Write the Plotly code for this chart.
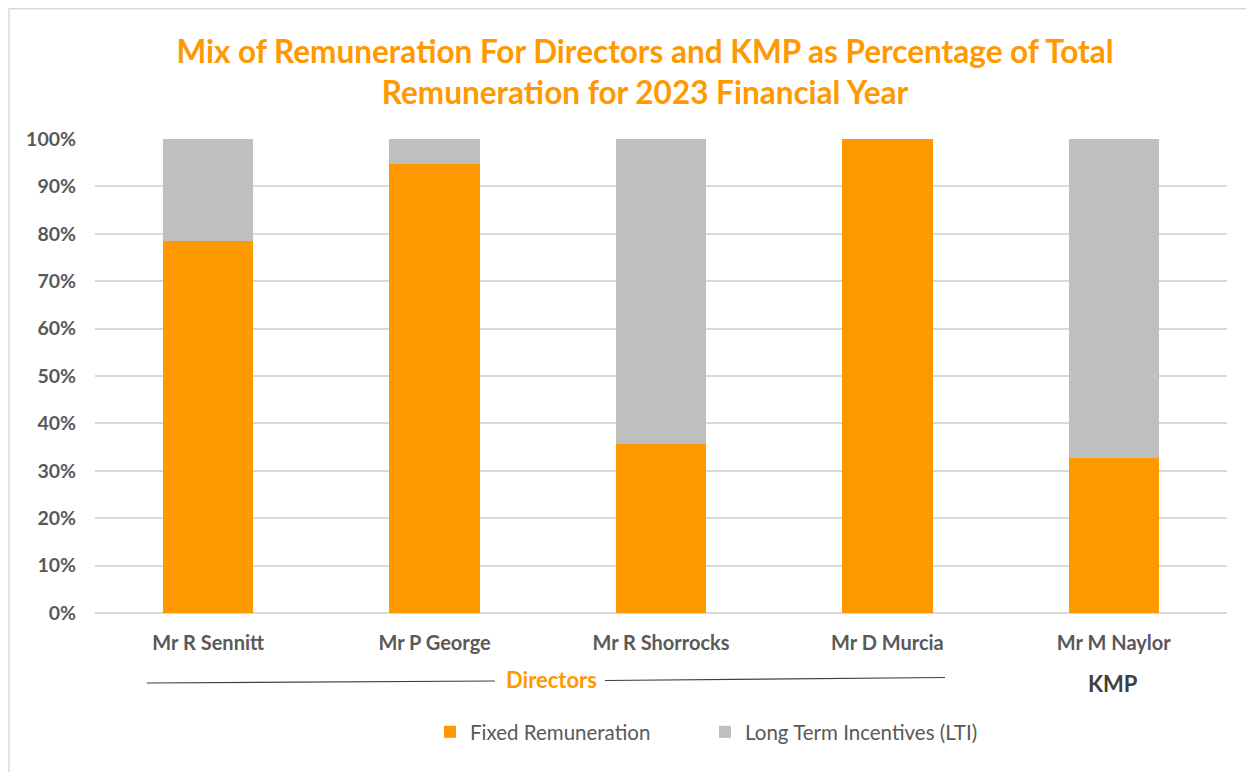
import plotly.graph_objects as go

categories = ["Mr R Sennitt", "Mr P George", "Mr R Shorrocks", "Mr D Murcia", "Mr M Naylor"]
fixed = [78.5, 94.8, 35.6, 100.0, 32.7]
lti = [21.5, 5.2, 64.4, 0.0, 67.3]
y_ticks = [0, 10, 20, 30, 40, 50, 60, 70, 80, 90, 100]
y_labels = [f"{v}%" for v in y_ticks]

ORANGE = "#FF9900"
GREY = "#BFBFBF"
TXT = "#595959"
FONT = "Lato"

fig = go.Figure()
fig.add_trace(go.Bar(x=categories, y=fixed, name="Fixed Remuneration",
                     marker=dict(color=ORANGE, line=dict(width=0))))
fig.add_trace(go.Bar(x=categories, y=lti, name="Long Term Incentives (LTI)",
                     marker=dict(color=GREY, line=dict(width=0))))

OFF = 8  # page body margin
W, H = 1254 - OFF, 772 - OFF
# plot area in page pixels: x 95..1227, y 139..613
L, R, T, B = 95 - OFF, 1254 - 1227, 139 - OFF, 772 - 613
pw, ph = W - L - R, H - T - B

def py(pix):
    return (H - (pix - OFF) - B) / ph

def px(pix):
    return ((pix - OFF) - L) / pw

fig.update_layout(
    barmode="stack",
    bargap=0.6,
    width=W, height=H,
    margin=dict(l=L, r=R, t=T, b=B),
    paper_bgcolor="white", plot_bgcolor="white",
    font=dict(family=FONT, color=TXT, size=17),
    title=dict(text="Mix of Remuneration For Directors and KMP as Percentage of Total<br>Remuneration for 2023 Financial Year",
               x=(645 - OFF) / W, xanchor="center", y=1 - (63 - OFF) / H, yanchor="middle",
               font=dict(family=FONT, size=31.5, color=ORANGE, weight="bold")),
    xaxis=dict(showline=False, ticks="", tickfont=dict(size=20, color=TXT, weight="bold"),
               showgrid=False, ticklabelstandoff=16),
    yaxis=dict(range=[0, 100], tickvals=y_ticks, ticktext=y_labels,
               showgrid=True, gridcolor="#D9D9D9", gridwidth=1.5,
               zeroline=True, zerolinecolor="#D9D9D9", zerolinewidth=1.5,
               showline=False, ticks="", ticklen=0, ticklabelstandoff=18,
               tickfont=dict(size=19.5, color=TXT, weight="bold")),
    legend=dict(orientation="h", x=px(430), xanchor="left", y=py(732), yanchor="middle",
                font=dict(size=20.5, color=TXT), itemwidth=30, traceorder="normal",
                entrywidth=230, entrywidthmode="pixels"),
    showlegend=True,
)

shapes = [
    dict(type="rect", xref="paper", yref="paper", x0=px(9), x1=px(1251), y0=py(800), y1=py(8.7),
         line=dict(color="#D9D9D9", width=1.5), fillcolor="rgba(0,0,0,0)", layer="below"),
    dict(type="line", xref="paper", yref="paper", x0=px(147), x1=px(495), y0=py(683), y1=py(681),
         line=dict(color="#404040", width=1.2)),
    dict(type="line", xref="paper", yref="paper", x0=px(605), x1=px(945), y0=py(680.5), y1=py(677.5),
         line=dict(color="#404040", width=1.2)),
]
fig.update_layout(shapes=shapes)

fig.add_annotation(text="Directors", xref="paper", yref="paper", x=px(551), y=py(679),
                   xanchor="center", yanchor="middle",
                   showarrow=False, font=dict(family=FONT, size=22, color=ORANGE, weight="bold"))
fig.add_annotation(text="KMP", xref="paper", yref="paper", x=px(1113), y=py(683),
                   xanchor="center", yanchor="middle",
                   showarrow=False, font=dict(family=FONT, size=22, color="#404040", weight="bold"))

fig.write_html("out.html")
